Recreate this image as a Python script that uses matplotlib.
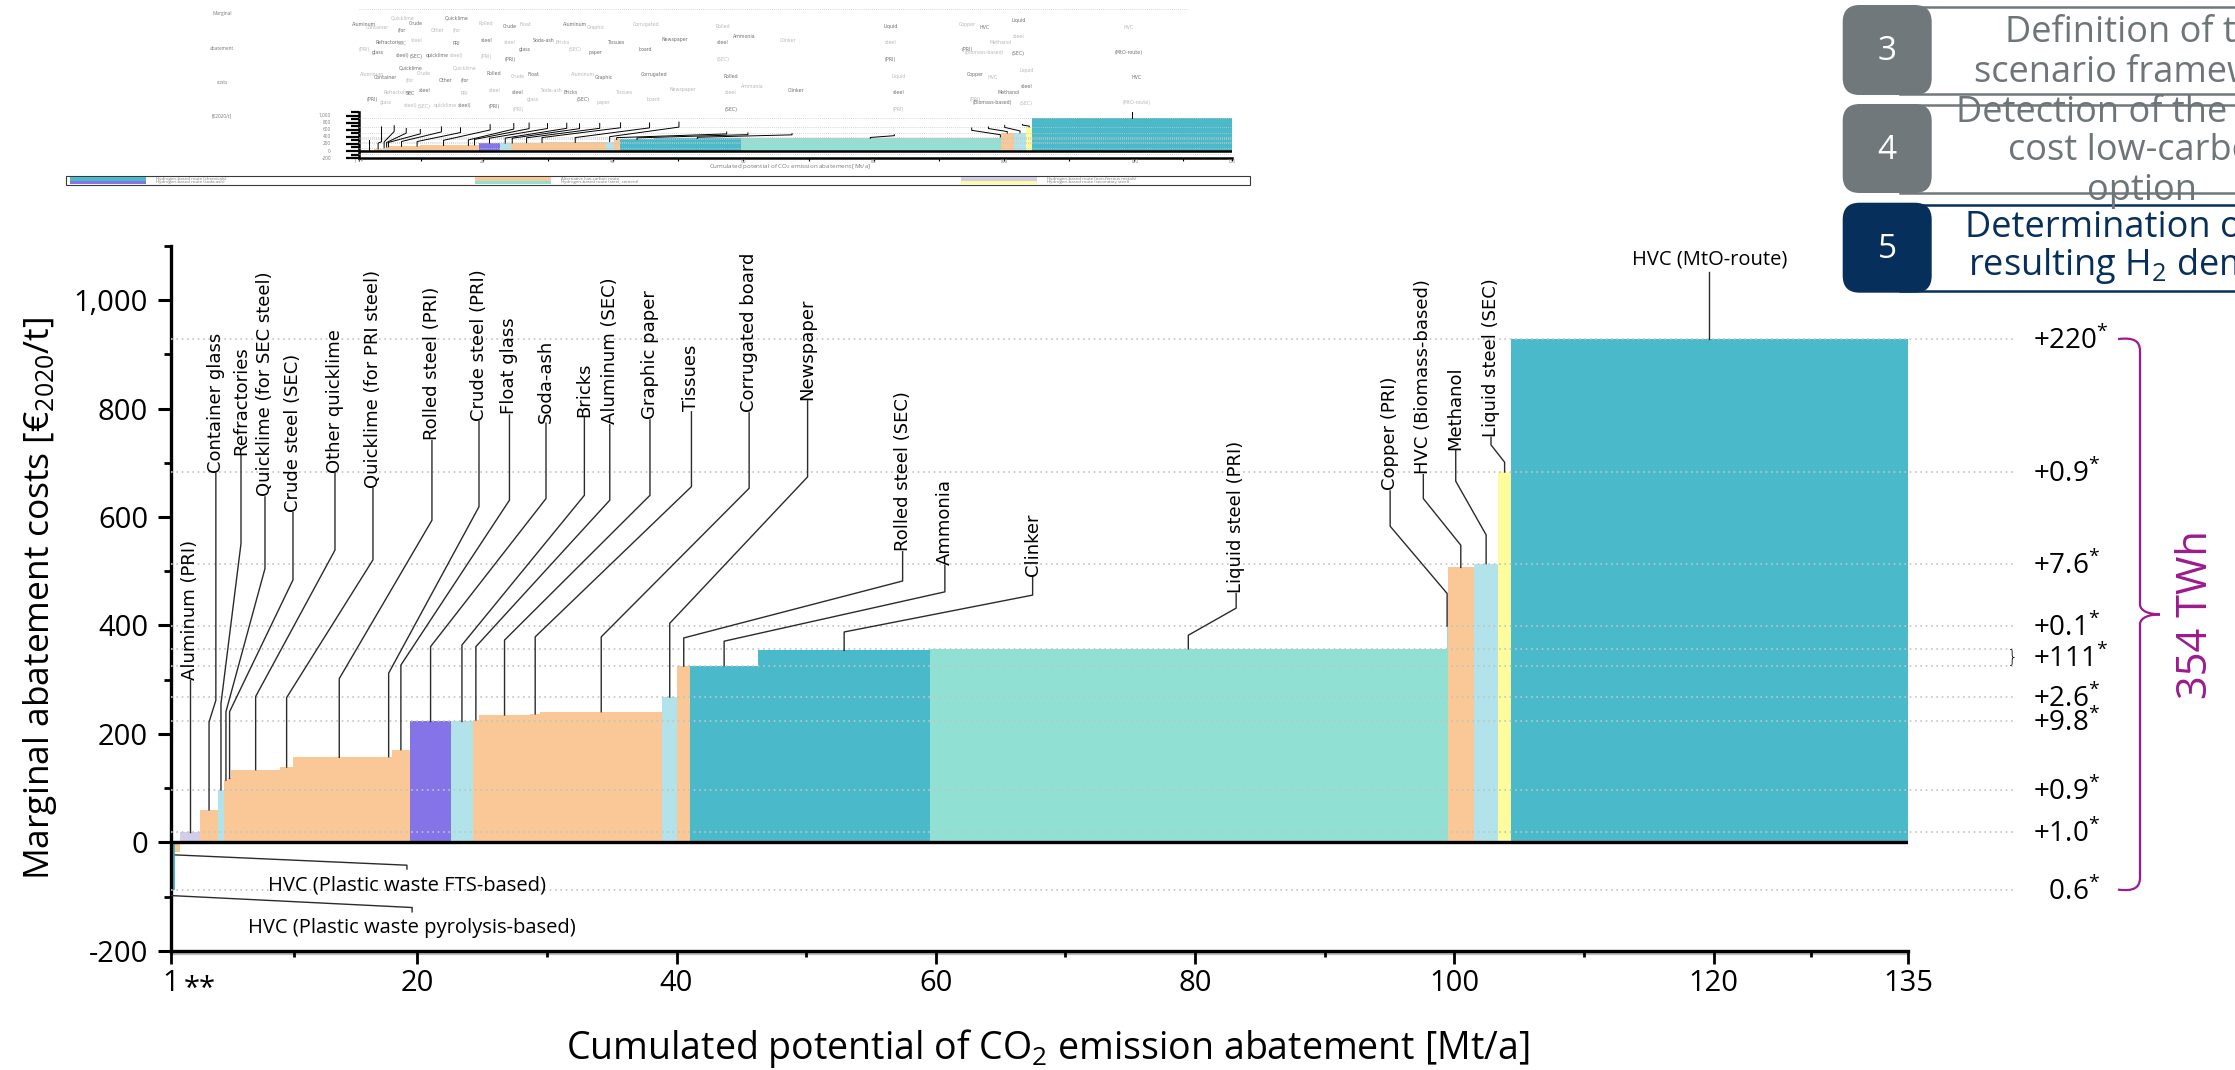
import numpy as np
import matplotlib
matplotlib.use("Agg")
import matplotlib.pyplot as plt
import matplotlib.transforms as mtransforms
from matplotlib.patches import FancyBboxPatch, Rectangle, PathPatch
from matplotlib.path import Path
from matplotlib.ticker import FuncFormatter

plt.rcParams["font.family"] = ["Open Sans", "DejaVu Sans"]
plt.rcParams["mathtext.fontset"] = "custom"
plt.rcParams["mathtext.rm"] = "Open Sans"
plt.rcParams["mathtext.it"] = "Open Sans:italic"
plt.rcParams["mathtext.bf"] = "Open Sans:bold"
plt.rcParams["axes.unicode_minus"] = False

# ---------------------------------------------------------------------------
# Abatement options in merit order
options = [
    "HVC (Plastic waste pyrolysis-based)",
    "HVC (Plastic waste FTS-based)",
    "Aluminum (PRI)",
    "Container glass",
    "Refractories",
    "Quicklime (for SEC steel)",
    "Crude steel (SEC)",
    "Other quicklime",
    "Quicklime (for PRI steel)",
    "Rolled steel (PRI)",
    "Crude steel (PRI)",
    "Float glass",
    "Soda-ash",
    "Bricks",
    "Aluminum (SEC)",
    "Graphic paper",
    "Tissues",
    "Corrugated board",
    "Newspaper",
    "Rolled steel (SEC)",
    "Ammonia",
    "Clinker",
    "Liquid steel (PRI)",
    "Copper (PRI)",
    "HVC (Biomass-based)",
    "Methanol",
    "Liquid steel (SEC)",
    "HVC (MtO-route)",
]
# abatement potential per option [Mt CO2/a]
potential = [0.34, 0.34, 1.56, 1.39, 0.45, 0.32, 0.24, 3.78, 1.00, 7.12,
             0.50, 1.39, 3.19, 1.65, 0.50, 3.92, 0.81, 9.38, 1.19, 0.97,
             5.26, 13.26, 39.84, 0.09, 2.02, 1.89, 0.96, 30.64]
# marginal abatement cost per option [EUR2020/t]
cost = [-87, -17, 20, 60, 97, 115, 118, 134, 139, 157,
        158, 171, 223, 223, 226, 235, 237, 241, 268, 325,
        326, 354, 357, 399, 507, 514, 683, 928]

# additional hydrogen demand [TWh] of the hydrogen-based options
h2_text = ["+220", "+0.9", "+7.6", "+0.1", "+111", "+2.6", "+9.8", "+0.9", "+1.0", "\u20070.6"]
h2_options = [[27], [26], [25], [23], [22, 20], [18], [12], [4], [2], [0]]
h2_total = "354 TWh"

x_start = 1.0
x_ticks = [1, 20, 40, 60, 80, 100, 120, 135]
x_ticklabels = ["1", "20", "40", "60", "80", "100", "120", "135"]
x_minor = [10.5, 30, 50, 70, 90, 110, 127.5]

TEAL, ORANGE, LAV = "#4ab9ca", "#fac896", "#d2cde9"
LBLUE, PURPLE, AQUA, YELLOW = "#b3e3ea", "#8474e8", "#90e1d3", "#fefc9c"
bar_colors = [TEAL, ORANGE, LAV, ORANGE, LBLUE, ORANGE, ORANGE, ORANGE, ORANGE, ORANGE,
              ORANGE, ORANGE, PURPLE, LBLUE, ORANGE, ORANGE, ORANGE, ORANGE, LBLUE, ORANGE,
              TEAL, TEAL, AQUA, AQUA, ORANGE, LBLUE, YELLOW, TEAL]

# leader layout for the rotated labels (options 2 .. 26), in data units
label_x = [2.46, 4.46, 6.40, 8.25, 10.41, 13.65, 16.58, 21.13, 24.76, 27.11, 29.93, 32.89,
           34.85, 37.95, 41.15, 45.60, 50.11, 57.44, 60.70, 67.47, 83.17, 95.05, 97.61,
           100.11, 102.83]
label_base = [299, 681, 714, 637, 608, 681, 653, 741, 776, 788, 773, 783, 770, 779, 794,
              792, 814, 536, 511, 490, 459, 648, 678, 723, 747]
knee_hi = [299, 262, 551, 505, 484, 539, 521, 594, 619, 631, 634, 640, 631, 640, 656,
           653, 674, 482, 462, 456, 432, 583, 634, 666, 733]
knee_lo = [299, 222, 256, 241, 241, 269, 267, 302, 312, 327, 361, 364, 361, 373, 379,
           379, 404, 377, 371, 388, 382, 459, 548, 567, 701]

# ---------------------------------------------------------------------------
W, H = 2235, 1070
fig = plt.figure(figsize=(W / 100, H / 100), dpi=100)

AX_L, AX_R, AX_T, AX_B = 171, 1908, 245.8, 950.9
ax = fig.add_axes([AX_L / W, 1 - AX_B / H, (AX_R - AX_L) / W, (AX_B - AX_T) / H])
ax.patch.set_alpha(0)

pot = np.array(potential)
cst = np.array(cost, dtype=float)
right = x_start + np.cumsum(pot)
left = right - pot
mid = left + pot / 2

ax.bar(left, cst, width=pot, align="edge", color=bar_colors, linewidth=0, zorder=2)
ax.set_xlim(1, 135)
ax.set_ylim(-200, 1100)

# dotted guides at the cost level of every hydrogen-based option
levels = sorted(set(cst[i] for grp in h2_options for i in grp))
blend = mtransforms.blended_transform_factory(ax.transAxes, ax.transData)
for lvl in levels:
    ax.plot([0, (2015 - AX_L) / (AX_R - AX_L)], [lvl, lvl], transform=blend,
            color="#c3c3c3", lw=1.2, ls=(0, (1, 2.2)), clip_on=False, zorder=3)

ax.axhline(0, color="black", lw=2.4, zorder=4)

for s in ["top", "right"]:
    ax.spines[s].set_visible(False)
ax.spines["left"].set_linewidth(2.4)
ax.spines["bottom"].set_linewidth(2.4)
# light shadow under the bottom axis line
ax.plot([0, 1], [-0.004, -0.004], transform=ax.transAxes, color="#bdbdbd", lw=1.6,
        clip_on=False, zorder=1)

ax.set_yticks(np.arange(-200, 1001, 200))
ax.set_yticks(np.arange(-100, 1101, 200), minor=True)
ax.yaxis.set_major_formatter(FuncFormatter(lambda v, p: f"{v:,.0f}"))
ax.set_xticks(x_ticks)
ax.set_xticklabels(x_ticklabels)
ax.set_xticks(x_minor, minor=True)
ax.tick_params(axis="y", which="major", length=9.5, width=2.2, labelsize=21, pad=7)
ax.tick_params(axis="y", which="minor", length=5, width=2.0)
ax.tick_params(axis="x", which="major", length=9, width=2.0, labelsize=21, pad=4)
ax.tick_params(axis="x", which="minor", length=4, width=2.0)

ax.set_ylabel("Marginal abatement costs [€$_{2020}$/t]", fontsize=25.5)
ax.yaxis.label.set_verticalalignment("center")
ax.yaxis.set_label_coords((40 - AX_L) / (AX_R - AX_L), 0.5)
ax.set_xlabel("Cumulated potential of CO$_2$ emission abatement [Mt/a]", fontsize=27)
ax.xaxis.label.set_verticalalignment("center")
ax.xaxis.set_label_coords((1048 - AX_L) / (AX_R - AX_L), (AX_B - 1048) / (AX_B - AX_T))

# rotated option labels with leader lines
LEADER = "#2b2b2b"
for k, i in enumerate(range(2, 27)):
    ax.plot([label_x[k], label_x[k], mid[i], mid[i]],
            [label_base[k], knee_hi[k], knee_lo[k], cst[i]],
            color=LEADER, lw=1.0, zorder=5, clip_on=False)
    ax.text(label_x[k], label_base[k] + 1, options[i], rotation=90, ha="center",
            va="bottom", fontsize=13, family="DejaVu Sans", zorder=6)

# MtO route label above the last bar
ax.plot([mid[27], mid[27]], [1052, cst[27]], color=LEADER, lw=1.0, zorder=5, clip_on=False)
ax.text(mid[27], 1074, options[27], ha="center", va="center", fontsize=14.5)

# labels of the negative-cost options below the axis
neg_label_x = [19.6, 19.2]
neg_label_y = [-158, -79]
neg_knee_y = [-120, -42]
neg_start_y = [-98, -23]
for j, i in enumerate([0, 1]):
    ax.plot([left[i], neg_label_x[j], neg_label_x[j]],
            [neg_start_y[j], neg_knee_y[j], neg_label_y[j] + 30],
            color=LEADER, lw=1.0, zorder=5)
    ax.text(neg_label_x[j], neg_label_y[j], options[i], ha="center", va="center",
            fontsize=14.5)

# ---------------------------------------------------------------------------
# small overview of the same cost curve in the upper left
MX_L, MX_R, MY_T, MY_B = 359, 1232, 112.0, 158.1
axm = fig.add_axes([MX_L / W, 1 - MY_B / H, (MX_R - MX_L) / W, (MY_B - MY_T) / H])
axm.patch.set_alpha(0)
axm.bar(left, cst, width=pot, align="edge", color=bar_colors, linewidth=0, zorder=2)
axm.set_xlim(1, 135)
axm.set_ylim(-200, 1100)
for lvl in levels:
    axm.axhline(lvl, color="#c8c8c8", lw=0.6, ls=(0, (1, 1.5)), zorder=3)
axm.axhline(0, color="black", lw=1.8, zorder=4)
for s in ["top", "right"]:
    axm.spines[s].set_visible(False)
axm.spines["left"].set_linewidth(1.8)
axm.spines["bottom"].set_linewidth(1.8)
axm.set_yticks(np.arange(-200, 1001, 200))
axm.set_yticks(np.arange(-100, 1101, 200), minor=True)
axm.tick_params(axis="y", which="major", length=9.5, width=1.6, labelleft=False)
axm.tick_params(axis="y", which="minor", length=6, width=1.6)
axm.set_xticks(x_ticks)
axm.set_xticks(x_minor, minor=True)
axm.tick_params(axis="x", which="both", length=2.5, width=0.8, labelbottom=False)
for k, i in enumerate(range(2, 27)):
    axm.plot([label_x[k], label_x[k], mid[i], mid[i]],
             [label_base[k], knee_hi[k], knee_lo[k], cst[i]],
             color="black", lw=0.7, zorder=5, clip_on=False)
axm.plot([mid[27], mid[27]], [1100, cst[27]], color="black", lw=0.7, zorder=5, clip_on=False)

# ---------------------------------------------------------------------------
# overlay in figure pixels (top-down) for annotations outside the plot area
ov = fig.add_axes([0, 0, 1, 1])
ov.set_xlim(0, W)
ov.set_ylim(H, 0)
ov.axis("off")
ov.patch.set_alpha(0)
ov.set_zorder(10)


def ypix(axis, v):
    return H - axis.transData.transform((1, v))[1]


def xpix(axis, v):
    return axis.transData.transform((v, 0))[0]


# hydrogen demand per option on the right
for txt, grp in zip(h2_text, h2_options):
    lvl = np.mean([cst[i] for i in grp])
    ov.text(2033, ypix(ax, lvl) + 10, txt + "$^{*}$", ha="left", va="baseline", fontsize=20)
pair = h2_options[h2_text.index("+111")]
ov.text(2013, ypix(ax, np.mean([cst[i] for i in pair])), "}", ha="center", va="center",
        fontsize=13, family="DejaVu Sans", fontweight="light")

# brace for the total
BR = "#9c1b8e"
yt, yb = ypix(ax, cst[h2_options[0][0]]), ypix(ax, cst[h2_options[-1][0]])
ym = (yt + yb) / 2
verts = [(2118, yt), (2134, yt - 2), (2140, yt + 2), (2140, yt + 12),
         (2140, ym - 10),
         (2140, ym - 3), (2150, ym), (2160, ym),
         (2150, ym), (2140, ym + 3), (2140, ym + 10),
         (2140, yb - 12),
         (2140, yb - 2), (2134, yb + 2), (2118, yb)]
codes = [Path.MOVETO, Path.CURVE4, Path.CURVE4, Path.CURVE4, Path.LINETO,
         Path.CURVE4, Path.CURVE4, Path.CURVE4, Path.CURVE4, Path.CURVE4, Path.CURVE4,
         Path.LINETO, Path.CURVE4, Path.CURVE4, Path.CURVE4]
ov.add_patch(PathPatch(Path(verts, codes), facecolor="none", edgecolor=BR, lw=1.6))
ov.text(2196, ym, h2_total, rotation=90, ha="center", va="center", fontsize=30, color=BR)

# "**" marker next to the first x tick label
ov.text(184, 996.5, "**", ha="left", va="baseline", fontsize=21)

# process step boxes in the upper right corner
GRAY, GRAYTXT, NAVY = "#71787b", "#6d7578", "#06305b"
steps = [
    ("3", ["Definition of the", "scenario framework"], [33, 73], 5, 90, 7.3, 94.3, GRAY, GRAYTXT),
    ("4", ["Detection of the least-", "cost low-carbon", "option"], [113, 151, 191],
     104, 89, 105, 192.7, GRAY, GRAYTXT),
    ("5", ["Determination of the", "resulting H$_2$ demand"], [228, 266], 202.7, 90,
     205, 291, NAVY, NAVY),
]
for num, lines, ys, by, bh, lt, lb, col, tcol in steps:
    ov.plot([1900, W], [lt, lt], color=col, lw=1.8, zorder=1)
    ov.plot([1900, W], [lb, lb], color=col, lw=1.8, zorder=1)
    for ln, yy in zip(lines, ys):
        ov.text(2142, yy, ln, ha="center", va="center", fontsize=26, color=tcol, zorder=2)
    ov.add_patch(FancyBboxPatch((1842.7, by), 89, bh,
                                boxstyle="round,pad=0,rounding_size=17",
                                facecolor=col, edgecolor="none", zorder=3))
    ov.text(1887, by + bh / 2 + 2, num, ha="center", va="center", fontsize=24,
            color="white", zorder=4)

# overview: tiny labels, tick texts and legend strip
ov.plot([MX_L, 1188], [9.3, 9.3], color="#c8c8c8", lw=0.6, ls=(0, (1, 1.5)))
tones = ["#6f6f6f", "#b9b9b9"]
for k, i in enumerate(list(range(2, 27)) + [27]):
    lx = label_x[k] if i < 27 else mid[27]
    words = options[i].split()
    n = len(words)
    for rep in range(2):
        for w_i, word in enumerate(words):
            yy = 12 + (w_i + 0.5 + rep * n) * 100 / (2 * n) + (k % 3) * 3
            ov.text(xpix(axm, lx) + (rep * 2 - 1) * 4, yy, word, ha="center", va="center",
                    fontsize=3.4, color=tones[(k + w_i + rep) % 2], family="DejaVu Sans")
for w_i, word in enumerate("Marginal abatement costs [€2020/t]".split()):
    ov.text(222, 14 + w_i * 34, word, ha="center", va="center", fontsize=3.4, color="#7a7a7a")
for v in np.arange(-200, 1001, 200):
    ov.text(331, ypix(axm, v), f"{v:,.0f}", ha="right", va="center", fontsize=3.4,
            color="#7a7a7a")
for v, t in zip(x_ticks, ["1 **"] + x_ticklabels[1:]):
    ov.text(xpix(axm, v), 161.5, t, ha="center", va="center", fontsize=3.4, color="#7a7a7a")
ov.text(790, 166.5, "Cumulated potential of CO$_2$ emission abatement [Mt/a]", ha="center",
        va="center", fontsize=4.5, color="#7a7a7a")

ov.add_patch(Rectangle((66, 176), 1184, 8.5, facecolor="white", edgecolor="#3a3a3a", lw=0.8))
legend_cols = [(70, TEAL, PURPLE, ["Hydrogen-based route (chemicals)", "Hydrogen-based route (soda-ash)"]),
               (475, ORANGE, AQUA, ["Alternative low-carbon route", "Hydrogen-based route (steel, cement)"]),
               (961, LAV, YELLOW, ["Hydrogen-based route (non-ferrous metals)", "Hydrogen-based route (secondary steel)"])]
for x0, c1, c2, texts in legend_cols:
    ov.add_patch(Rectangle((x0, 177.2), 76, 3.3, facecolor=c1, edgecolor="none"))
    ov.add_patch(Rectangle((x0, 180.5), 76, 3.3, facecolor=c2, edgecolor="none"))
    ov.text(x0 + 86, 178.8, texts[0], ha="left", va="center", fontsize=3.2, color="#7a7a7a")
    ov.text(x0 + 86, 182.2, texts[1], ha="left", va="center", fontsize=3.2, color="#7a7a7a")

fig.savefig("out.png", dpi=100)
